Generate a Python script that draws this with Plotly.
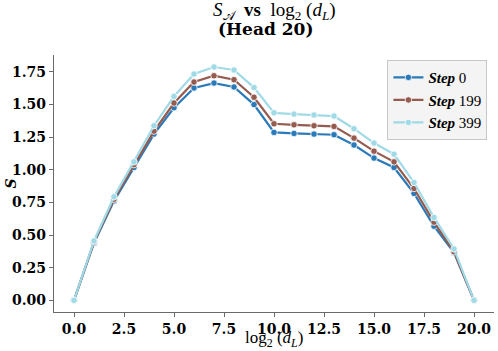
import plotly.graph_objects as go

# log2(d_L) positions
x_vals = list(range(21))

step_0 = [0.0, 0.44, 0.762, 1.018, 1.274, 1.476, 1.627, 1.665, 1.635, 1.50, 1.287,
          1.279, 1.274, 1.269, 1.19, 1.09, 1.018, 0.819, 0.568, 0.365, 0.0]
step_199 = [0.0, 0.447, 0.775, 1.04, 1.297, 1.512, 1.673, 1.721, 1.691, 1.556, 1.353,
            1.345, 1.338, 1.333, 1.243, 1.143, 1.061, 0.857, 0.599, 0.372, 0.0]
step_399 = [0.0, 0.455, 0.793, 1.061, 1.338, 1.563, 1.734, 1.788, 1.765, 1.63, 1.437,
            1.427, 1.42, 1.412, 1.315, 1.205, 1.12, 0.903, 0.635, 0.394, 0.0]

series = [("0", step_0, "#2a7ab9"), ("199", step_199, "#955b4f"), ("399", step_399, "#9fdae6")]

y_ticks = [0, 0.25, 0.5, 0.75, 1.0, 1.25, 1.5, 1.75]
x_ticks = [0, 2.5, 5, 7.5, 10, 12.5, 15, 17.5, 20]

fig = go.Figure()
for name, vals, col in series:
    fig.add_trace(go.Scatter(
        x=x_vals, y=vals, mode="lines+markers",
        name="<b><i>Step</i></b> " + name,
        line=dict(color=col, width=2.2),
        marker=dict(size=6.5, color=col, line=dict(color="white", width=0.8)),
    ))

axis_style = dict(showline=True, linecolor="#6a6a6a", linewidth=1.2, ticks="outside",
                  ticklen=4, tickcolor="#6a6a6a", showgrid=False, zeroline=False,
                  automargin=False,
                  tickfont=dict(family="DejaVu Serif", size=14, color="black", weight="bold"))

serif = "DejaVu Serif"
math = "Liberation Serif"
fig.update_layout(
    width=498, height=351,
    margin=dict(l=54, r=4, t=55, b=39),
    paper_bgcolor="white", plot_bgcolor="white",
    xaxis=dict(range=[-1, 21], tickvals=x_ticks, ticktext=["%.1f" % t for t in x_ticks],
               **axis_style),
    yaxis=dict(range=[-0.0895, 1.88], tickvals=y_ticks, ticktext=["%.2f" % t for t in y_ticks],
               **axis_style),
    legend=dict(x=0.985, xanchor="right", y=0.98, yanchor="top",
                bgcolor="#f4f4f4", bordercolor="#c8c8c8", borderwidth=1,
                font=dict(family=math, size=15, color="black"),
                itemwidth=30, tracegroupgap=0),
)

# title lines and axis labels as annotations
fig.add_annotation(text="<i>S</i><sub>𝒜</sub>  <b>vs</b>  log<sub>2</sub> (<i>d</i><sub><i>L</i></sub>)",
                   xref="paper", yref="paper", x=0.5, y=1 + 44 / 257, xanchor="center", yanchor="middle",
                   showarrow=False, font=dict(family=math, size=19, color="black"))
fig.add_annotation(text="<b>(Head 20)</b>",
                   xref="paper", yref="paper", x=0.48, y=1 + 26 / 257, xanchor="center", yanchor="middle",
                   showarrow=False, font=dict(family=serif, size=17, color="black"))
fig.add_annotation(text="log<sub>2</sub> (<i>d</i><sub><i>L</i></sub>)",
                   xref="paper", yref="paper", x=0.5, y=-27 / 257, xanchor="center", yanchor="middle",
                   showarrow=False, font=dict(family=math, size=17, color="black"))
fig.add_annotation(text="<b><i>S</i></b>", textangle=-90,
                   xref="paper", yref="paper", x=-44 / 440, y=0.5, xanchor="center", yanchor="middle",
                   showarrow=False, font=dict(family=serif, size=14, color="black"))

fig.write_html("out.html", config={"displayModeBar": False},
               post_script="document.body.style.margin='0';")
